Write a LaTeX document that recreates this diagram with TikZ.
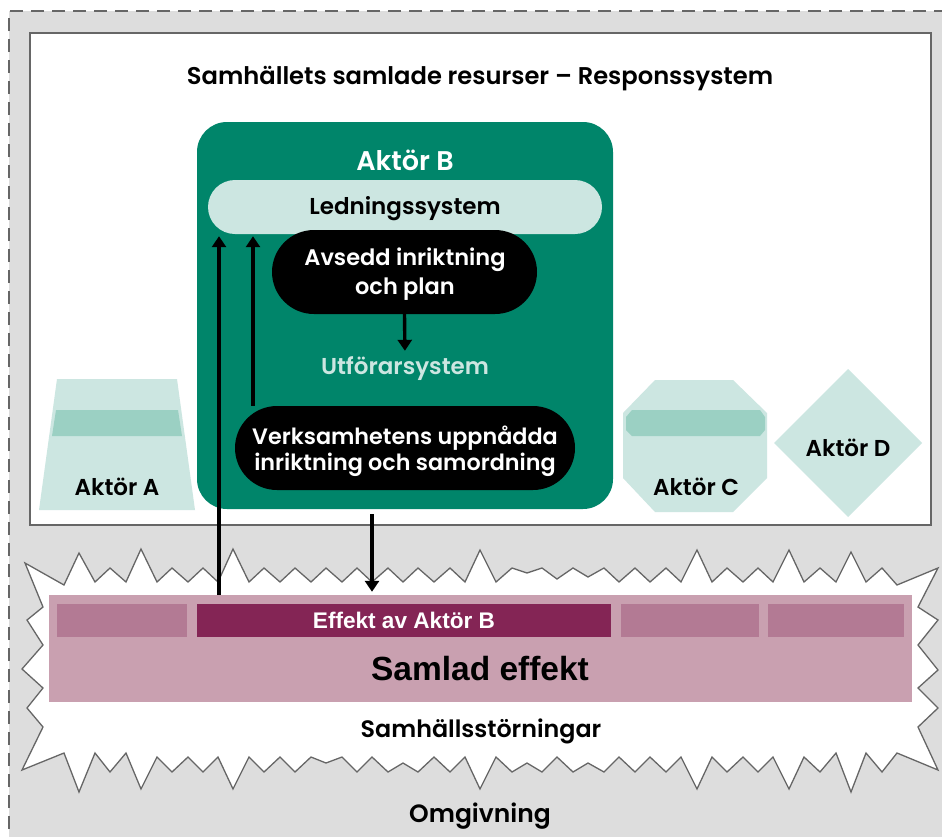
\documentclass[tikz,border=0pt]{standalone}
\usepackage{fontspec}
\setmainfont{Poppins}[BoldFont={Poppins SemiBold}]
\newfontfamily\arialfont{Liberation Sans}
\usetikzlibrary{arrows.meta}

\definecolor{bggray}{HTML}{DDDDDD}
\definecolor{linegray}{HTML}{666666}
\definecolor{aktgreen}{HTML}{00856A}
\definecolor{palegreen}{HTML}{CCE6E1}
\definecolor{midgreen}{HTML}{9BD0C3}
\definecolor{effpink}{HTML}{C9A0B0}
\definecolor{effblock}{HTML}{B37A94}
\definecolor{effdark}{HTML}{842555}

\newcommand\setfs[2]{\fontsize{#1}{#2}\selectfont}

\tikzset{
  lbl/.style={inner sep=0pt, align=center, font=\bfseries\setfs{23}{29}},
  pillbox/.style={inner sep=0pt, rounded corners=#1},
  arr/.style={line width=3.4pt, -{Triangle[width=14pt,length=11pt]}},
  burst/.style={fill=white, draw=linegray, line width=1.3pt, line join=miter},
  block/.style={inner sep=0pt, minimum height=33pt},
}

\begin{document}
\begin{tikzpicture}[x=1pt,y=-1pt]
\useasboundingbox (0,0) rectangle (942,836);
\clip (0,0) rectangle (942,836);

% surroundings
\fill[bggray] (9,11) rectangle (960,850);
\draw[linegray, line width=2pt, dash pattern=on 13pt off 8pt] (9,850) -- (9,11) -- (960,11);

% response system frame
\node[draw=linegray, line width=1.6pt, fill=white, inner sep=0pt,
      minimum width=901pt, minimum height=492pt] (resp) at (480.5,279) {};
\node[lbl, font=\bfseries\setfs{24.2}{29}] (title) at (480,79) {Samhällets samlade resurser – Responssystem};

% actor B
\node[pillbox=30pt, fill=aktgreen, minimum width=416pt, minimum height=387pt] (aktB) at (405,315.5) {};
\node[lbl, text=white, font=\bfseries\setfs{27}{30}] (aktBlbl) at (405,160) {Aktör B};
\node[pillbox=27pt, fill=palegreen, minimum width=394pt, minimum height=54pt] (led) at (405,207) {};
\node[lbl] (ledlbl) at (405,209) {Ledningssystem};
\node[pillbox=42pt, fill=black, minimum width=265pt, minimum height=84pt] (avsedd) at (404.5,272) {};
\node[lbl, text=white, font=\bfseries\setfs{22.5}{29}] (avseddlbl) at (405,274) {Avsedd inriktning\\och plan};
\node[lbl, text=palegreen] (utf) at (405,369) {Utförarsystem};
\node[pillbox=42pt, fill=black, minimum width=340pt, minimum height=84pt] (verk) at (405,448) {};
\node[lbl, text=white, font=\bfseries\setfs{22.3}{26}] (verklbl) at (405,451) {Verksamhetens uppnådda\\inriktning och samordning};

% actor A
\fill[palegreen] (57,379) -- (177,379) -- (195,510) -- (39,510) -- cycle;
\fill[midgreen] (56,410) -- (178,410) -- (182,436) -- (52,436) -- cycle;
\node[lbl] (aktA) at (117,487) {Aktör A};

% actor C
\fill[palegreen] (655,380) -- (733,380) -- (767,413) -- (767,478) -- (733,512)
  -- (655,512) -- (623,478) -- (623,413) -- cycle;
\fill[midgreen] (632,410) -- (760,410) -- (765,417) -- (765,430) -- (760,436)
  -- (632,436) -- (626,430) -- (626,417) -- cycle;
\node[lbl] (aktC) at (696,487) {Aktör C};

% actor D
\fill[palegreen] (848,369) -- (922,443) -- (848,517) -- (774,443) -- cycle;
\node[lbl] (aktD) at (848,448) {Aktör D};

% disturbances
\draw[burst] (25,563) -- (64,585) -- (79,553) -- (95,582) -- (110,568) -- (126,582)
  -- (141,549) -- (157,582) -- (172,568) -- (188,582) -- (203,568) -- (218,582)
  -- (233,549) -- (249,582) -- (264,568) -- (280,582) -- (295,568) -- (311,582)
  -- (326,568) -- (342,582) -- (357,568) -- (372,582) -- (388,568) -- (403,582)
  -- (418,568) -- (434,582) -- (450,568) -- (465,582) -- (480,550) -- (496,582)
  -- (512,568) -- (527,573) -- (542,568) -- (557,579) -- (573,568) -- (588,577)
  -- (604,568) -- (619,582) -- (635,568) -- (650,582) -- (666,568) -- (681,582)
  -- (697,550) -- (712,582) -- (727,568) -- (743,582) -- (758,568) -- (773,582)
  -- (789,550) -- (804,582) -- (820,568) -- (836,582) -- (851,552) -- (866,582)
  -- (882,568) -- (897,585) -- (938,568)
  -- (918,607) -- (938,620) -- (918,645) -- (938,670) -- (918,688) -- (938,708)
  -- (918,727) -- (938,770)
  -- (897,753) -- (882,772) -- (866,753) -- (851,792) -- (836,753) -- (820,772)
  -- (804,757) -- (789,789) -- (773,757) -- (758,772) -- (743,757) -- (727,772)
  -- (712,757) -- (697,789) -- (681,757) -- (666,772) -- (650,757) -- (635,772)
  -- (619,757) -- (604,772) -- (588,763) -- (573,772) -- (557,757) -- (542,772)
  -- (527,763) -- (512,772) -- (496,757) -- (480,789) -- (465,757) -- (450,772)
  -- (434,757) -- (418,772) -- (403,763) -- (388,772) -- (372,757) -- (357,772)
  -- (342,757) -- (326,763) -- (311,757) -- (295,772) -- (280,757) -- (264,772)
  -- (249,757) -- (233,789) -- (218,757) -- (203,772) -- (188,757) -- (172,772)
  -- (157,757) -- (141,789) -- (126,753) -- (110,772) -- (95,753) -- (79,792)
  -- (64,753) -- (22,770)
  -- (43,727) -- (27,708) -- (43,688) -- (22,669) -- (43,645) -- (27,620)
  -- (43,607) -- cycle;

% combined effect
\node[fill=effpink, inner sep=0pt, minimum width=863pt, minimum height=107pt] (bar) at (480.5,648.5) {};
\node[block, fill=effblock, minimum width=130pt] (effA) at (122,620.5) {};
\node[block, fill=effdark, minimum width=414pt, text=white, font=\arialfont\bfseries\setfs{22.6}{24}] (effB) at (404,620.5) {Effekt av Aktör B};
\node[block, fill=effblock, minimum width=138pt] (effC) at (690,620.5) {};
\node[block, fill=effblock, minimum width=136pt] (effD) at (836,620.5) {};
\node[lbl, font=\arialfont\bfseries\setfs{33.5}{36}] (samlad) at (480,669) {Samlad effekt};
\node[lbl, font=\bfseries\setfs{23.8}{29}] (stor) at (481,731) {Samhällsstörningar};
\node[lbl, font=\bfseries\setfs{25}{29}] (omg) at (480,816) {Omgivning};

% feedback and steering arrows
\coordinate (upA) at (219,0);
\coordinate (upB) at (253,0);
\coordinate (downTop) at (372,514);
\draw[arr, shorten >=2pt] (bar.north -| upA) -- (led.south -| upA);
\draw[arr, shorten >=2pt] (verk.north -| upB) -- (led.south -| upB);
\draw[arr, shorten >=6pt] (avsedd.south) -- (utf.north);
\draw[arr, shorten >=3pt] (downTop) -- (bar.north -| downTop);
\end{tikzpicture}
\end{document}
